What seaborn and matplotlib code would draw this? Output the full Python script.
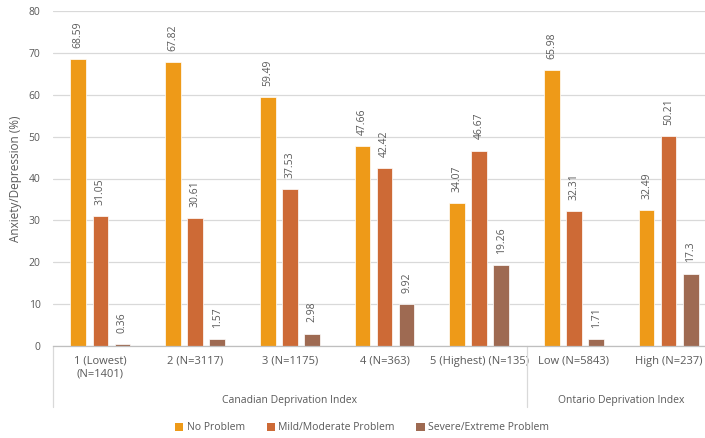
import matplotlib
matplotlib.use("Agg")
import matplotlib.pyplot as plt
import matplotlib.transforms as mtransforms
from matplotlib.patches import Patch
import pandas as pd
import seaborn as sns

categories = ["1 (Lowest)\n(N=1401)", "2 (N=3117)", "3 (N=1175)", "4 (N=363)",
              "5 (Highest) (N=135)", "Low (N=5843)", "High (N=237)"]
series = ["No Problem", "Mild/Moderate Problem", "Severe/Extreme Problem"]
no_problem = [68.59, 67.82, 59.49, 47.66, 34.07, 65.98, 32.49]
mild_moderate = [31.05, 30.61, 37.53, 42.42, 46.67, 32.31, 50.21]
severe_extreme = [0.36, 1.57, 2.98, 9.92, 19.26, 1.71, 17.3]
index_groups = ["Canadian Deprivation Index", "Ontario Deprivation Index"]
group_sizes = [5, 2]
colors = ["#EE9A18", "#CD6A36", "#9E6A52"]

rows = []
for name, vals in zip(series, [no_problem, mild_moderate, severe_extreme]):
    for cat, v in zip(categories, vals):
        rows.append({"category": cat, "series": name, "value": v})
df = pd.DataFrame(rows)

sns.set_theme(style="white")
plt.rcParams["font.family"] = ["Open Sans", "DejaVu Sans"]
text_color = "#595959"

fig = plt.figure(figsize=(7.05, 4.38), dpi=100)
ax = fig.add_axes([53 / 705, 92 / 438, (716 - 53) / 705, 335 / 438])

sns.barplot(data=df, x="category", y="value", hue="series", order=categories,
            hue_order=series, palette=colors, saturation=1, width=0.7, gap=0.29,
            edgecolor="#FFFFFF", linewidth=0.5, ax=ax, legend=False)

for cont in ax.containers:
    ax.bar_label(cont, labels=[f"{v:g}" for v in cont.datavalues], rotation=90,
                 padding=8, fontsize=7.5, color=text_color)

ax.set_xlim(-0.5, len(categories) - 0.5)
ax.set_ylim(0, 80)
ax.set_yticks(range(0, 81, 10))
ax.yaxis.grid(True, color="#D9D9D9", linewidth=0.9)
ax.set_axisbelow(True)
for side in ["left", "right", "top"]:
    ax.spines[side].set_visible(False)
ax.spines["bottom"].set_color("#BFBFBF")
ax.spines["bottom"].set_linewidth(0.9)
ax.tick_params(axis="both", length=0, colors=text_color, labelsize=7.5)
ax.tick_params(axis="x", pad=7, labelsize=8)
ax.tick_params(axis="y", pad=9)
ax.set_xlabel("")
ax.set_ylabel("Anxiety/Depression (%)", color=text_color, fontsize=8.5, labelpad=5)

# Hierarchical category labels below the ticks
trans = mtransforms.blended_transform_factory(ax.transData, ax.transAxes)
line_bottom = -(407 - 346) / 335
label_y = -(400 - 346) / 335
start = 0
edges = [-0.5]
for name, size in zip(index_groups, group_sizes):
    center = start + (size - 1) / 2
    ax.text(center, label_y, name, transform=trans, ha="center", va="center",
            fontsize=7.5, color=text_color)
    start += size
    edges.append(start - 0.5)
for e in edges:
    ax.plot([e, e], [0, line_bottom], transform=trans, color="#D9D9D9",
            linewidth=0.9, clip_on=False)

handles = [Patch(facecolor=c, edgecolor="none") for c in colors]
fig.legend(handles, series, loc="center", bbox_to_anchor=(362 / 705, 1 - 428 / 438),
           ncol=3, frameon=False, fontsize=7.5, handlelength=0.8, handleheight=0.8,
           handletextpad=0.3, columnspacing=2.1, labelcolor=text_color)

fig.savefig("out.png", dpi=100)
